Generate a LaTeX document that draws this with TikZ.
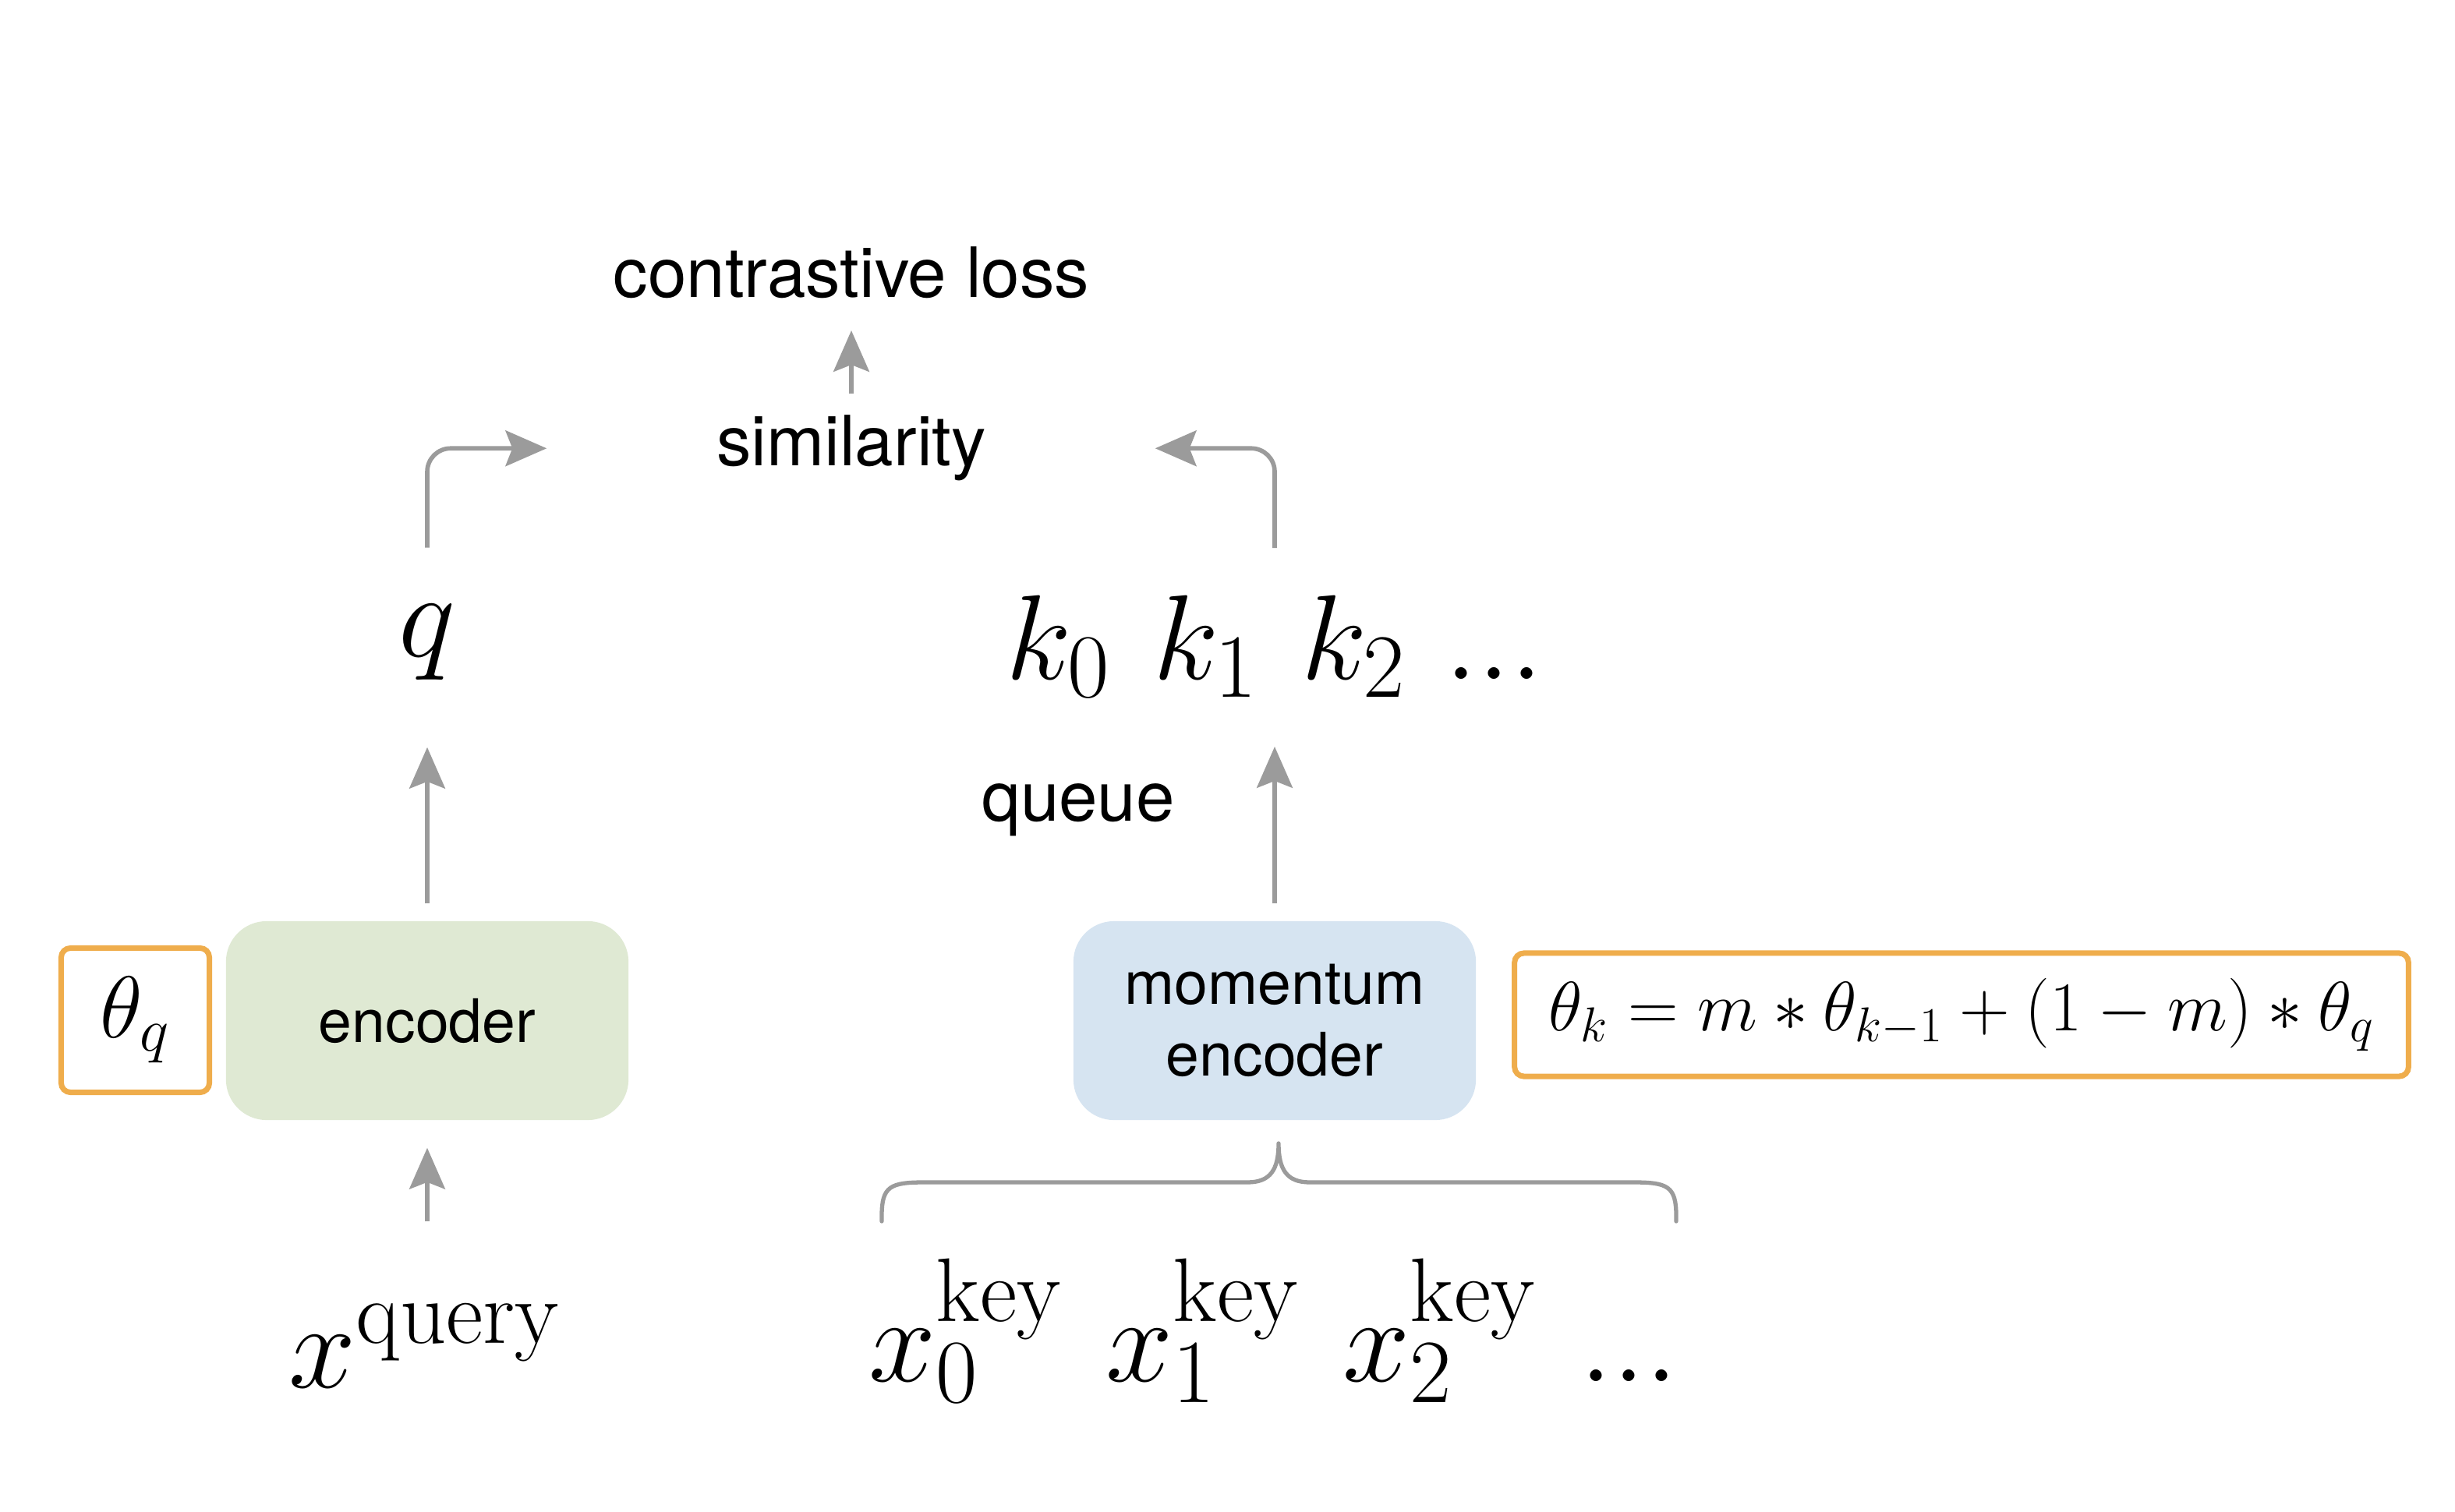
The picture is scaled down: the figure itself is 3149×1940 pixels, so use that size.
\RequirePackage{fix-cm}
\documentclass[tikz,border=0pt]{standalone}
\usepackage{fontspec}
\newfontfamily\helv{TeX Gyre Heros}
\usetikzlibrary{arrows.meta}
\DeclareMathSizes{44}{44}{33}{24}
\definecolor{arrowgray}{RGB}{155,155,155}
\definecolor{oborder}{RGB}{239,173,76}
\definecolor{encgreen}{RGB}{223,233,211}
\definecolor{momblue}{RGB}{214,228,241}
\tikzset{
  labtext/.style={font=\helv\fontsize{25.3pt}{30pt}\selectfont, inner sep=0pt, anchor=base},
  mathbig/.style={font=\fontsize{44pt}{52pt}\selectfont, inner sep=0pt, anchor=base west},
  encbox/.style={fill=encgreen, rounded corners=0.52cm, minimum width=5.16cm, minimum height=2.55cm,
    font=\helv\fontsize{21.9pt}{26.2pt}\selectfont, align=center, inner sep=0pt},
  mombox/.style={encbox, fill=momblue},
  obox/.style={draw=oborder, line width=2pt, rounded corners=0.12cm, fill=white, inner sep=0pt},
  arr/.style={draw=arrowgray, line width=1.6pt, -{Stealth[length=15pt,width=13pt,inset=2.5pt]}},
  bracestyle/.style={draw=arrowgray, line width=1.5pt, line cap=round, line join=round}
}
\begin{document}
\begin{tikzpicture}[x=0.01cm,y=-0.01cm]
\fill[white] (0,0) rectangle (3149,1940);
\useasboundingbox (0,0) rectangle (3149,1940);

% top labels
\node[labtext] (closs) at (1092,382) {contrastive loss};
\node[labtext] (sim) at (1092,598) {similarity};
\node[labtext] (queue) at (1383,1053) {queue};

% q and keys
\node[mathbig, anchor=base] (q) at (548,842) {$q$};
\node[mathbig] (k0) at (1290,871) {$k_0$};
\node[mathbig] (k1) at (1479,871) {$k_1$};
\node[mathbig] (k2) at (1669,871) {$k_2$};
\node[mathbig] (kdots) at (1853,871) {$...$};

% encoders
\node[encbox] (enc) at (548,1309.5) {encoder};
\node[mombox] (mom) at (1635,1309.5) {momentum\\encoder};

% orange boxes
\node[obox, minimum width=1.90cm, minimum height=1.85cm, font=\fontsize{32pt}{38pt}\selectfont] (thq) at (173.5,1309) {$\theta_q$};
\node[obox, minimum width=11.46cm, minimum height=1.58cm, font=\fontsize{25.5pt}{30pt}\selectfont] (upd) at (2516,1302) {$\theta_k = m*\theta_{k-1}+(1-m)*\theta_q$};

% inputs
\node[mathbig] (xq) at (370,1780) {$x^{\mathrm{query}}$};
\node[mathbig] (x0) at (1114,1772) {$x_0^{\mathrm{key}}$};
\node[mathbig] (x1) at (1418,1772) {$x_1^{\mathrm{key}}$};
\node[mathbig] (x2) at (1722,1772) {$x_2^{\mathrm{key}}$};
\node[mathbig] (xdots) at (2026,1772) {$...$};

% coordinates for free ends
\coordinate (ktip) at (1635,958);
\coordinate (kup) at (1635,703);
\coordinate (xqa) at (548,1567);

% arrows
\draw[arr] ([yshift=0.27cm]sim.north) -- ([yshift=-0.4cm]closs.south);
\draw[arr, rounded corners=0.3cm] ([yshift=0.72cm]q.north) |- ([xshift=-2.17cm]sim.west);
\draw[arr, rounded corners=0.3cm] (kup) |- ([xshift=2.16cm]sim.east);
\draw[arr] ([yshift=0.22cm]enc.north) -- ([yshift=-0.86cm]q.south);
\draw[arr] ([yshift=0.22cm]mom.north) -- (ktip);
\draw[arr] (xqa) -- ([yshift=-0.35cm]enc.south);

% brace
\draw[bracestyle] (1131,1567) -- (1131,1560)
  .. controls (1131,1522) and (1142,1517) .. (1186,1517) -- (1600,1517)
  .. controls (1630,1517) and (1640,1500) .. (1640,1467)
  .. controls (1640,1500) and (1650,1517) .. (1680,1517) -- (2095,1517)
  .. controls (2139,1517) and (2150,1522) .. (2150,1560) -- (2150,1567);
\end{tikzpicture}
\end{document}
